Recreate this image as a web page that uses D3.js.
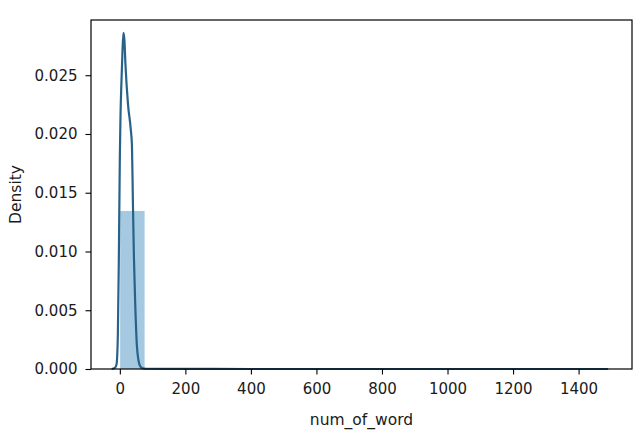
<!DOCTYPE html>
<html>
<head>
<meta charset="utf-8">
<script src="https://cdn.jsdelivr.net/npm/d3@7"></script>
<style>
  body { margin: 0; background: #fff; }
  svg { display: block; }
  text { font-family: "DejaVu Sans", sans-serif; fill: #1a1a1a; }
</style>
</head>
<body>
<div id="chart"></div>
<script>
// histogram of num_of_word (20 bins, density)
const binEdges = [1, 75.6, 150.2, 224.8, 299.4, 374, 448.6, 523.2, 597.8, 672.4, 747,
  821.6, 896.2, 970.8, 1045.4, 1120, 1194.6, 1269.2, 1343.8, 1418.4, 1493];
const binDensity = [0.01345, 0.00003, 0.00001, 0, 0, 0, 0, 0, 0, 0,
  0, 0, 0, 0, 0, 0, 0, 0, 0, 0.000005];

// kde curve
const kdeX = [-25, -15, -10, -6, -3, 0, 2, 5, 8, 11, 14, 17, 25, 33, 37, 40, 43, 47, 52, 57, 63, 70, 80, 150, 400, 800, 1200, 1490];
const kdeY = [0, 0.0001, 0.0004, 0.003, 0.0095, 0.018, 0.0215, 0.0245, 0.027, 0.0286, 0.028, 0.026, 0.0225, 0.0205, 0.019, 0.014, 0.0095, 0.0055, 0.002, 0.0007, 0.0002, 0.00005, 0.00002, 0.00001, 0, 0, 0, 0];

const xTicks = [0, 200, 400, 600, 800, 1000, 1200, 1400];
const yTicks = [0, 0.005, 0.010, 0.015, 0.020, 0.025];

const width = 640, height = 431;
const margin = { left: 91, right: 8, top: 20, bottom: 62 };

const svg = d3.select('#chart')
  .append('svg')
  .attr('width', width)
  .attr('height', height);

const x = d3.scaleLinear()
  .domain([-88, 1563])
  .range([margin.left, width - margin.right]);

const y = d3.scaleLinear()
  .domain([0, 0.0297])
  .range([height - margin.bottom, margin.top]);

// bars
const bins = binDensity.map((d, i) => ({ x0: binEdges[i], x1: binEdges[i + 1], d: d }));
svg.selectAll('.bar')
  .data(bins)
  .enter()
  .append('rect')
  .attr('class', 'bar')
  .attr('x', (d) => x(d.x0))
  .attr('y', (d) => y(d.d))
  .attr('width', (d) => x(d.x1) - x(d.x0))
  .attr('height', (d) => y(0) - y(d.d))
  .attr('fill', '#1f77b4')
  .attr('fill-opacity', 0.4);

// kde line
const kde = kdeX.map((v, i) => [v, kdeY[i]]);
svg.append('path')
  .datum(kde)
  .attr('fill', 'none')
  .attr('stroke', '#28628b')
  .attr('stroke-width', 2.2)
  .attr('stroke-linejoin', 'round')
  .attr('d', d3.line().x((d) => x(d[0])).y((d) => y(d[1])).curve(d3.curveMonotoneX));

// axes
const xAxis = svg.append('g')
  .attr('transform', `translate(0,${height - margin.bottom})`)
  .call(d3.axisBottom(x).tickValues(xTicks).tickSize(5.5).tickPadding(8.5).tickFormat(d3.format('d')));

const yAxis = svg.append('g')
  .attr('transform', `translate(${margin.left},0)`)
  .call(d3.axisLeft(y).tickValues(yTicks).tickSize(5.5).tickPadding(8).tickFormat(d3.format('.3f')));

[xAxis, yAxis].forEach((g) => {
  g.select('.domain').remove();
  g.selectAll('.tick line').attr('stroke', '#000').attr('stroke-width', 1.1);
  g.selectAll('.tick text').style('font-size', '15px').style('font-family', '"DejaVu Sans", sans-serif').attr('fill', '#1a1a1a');
});

// frame
svg.append('rect')
  .attr('x', margin.left)
  .attr('y', margin.top)
  .attr('width', width - margin.left - margin.right)
  .attr('height', height - margin.top - margin.bottom)
  .attr('fill', 'none')
  .attr('stroke', '#000')
  .attr('stroke-width', 1.2);

// labels
svg.append('text')
  .attr('x', (margin.left + width - margin.right) / 2)
  .attr('y', 425)
  .attr('text-anchor', 'middle')
  .style('font-size', '15.5px')
  .text('num_of_word');

svg.append('text')
  .attr('transform', `translate(21,${(margin.top + height - margin.bottom) / 2}) rotate(-90)`)
  .attr('text-anchor', 'middle')
  .style('font-size', '15.5px')
  .text('Density');
</script>
</body>
</html>
